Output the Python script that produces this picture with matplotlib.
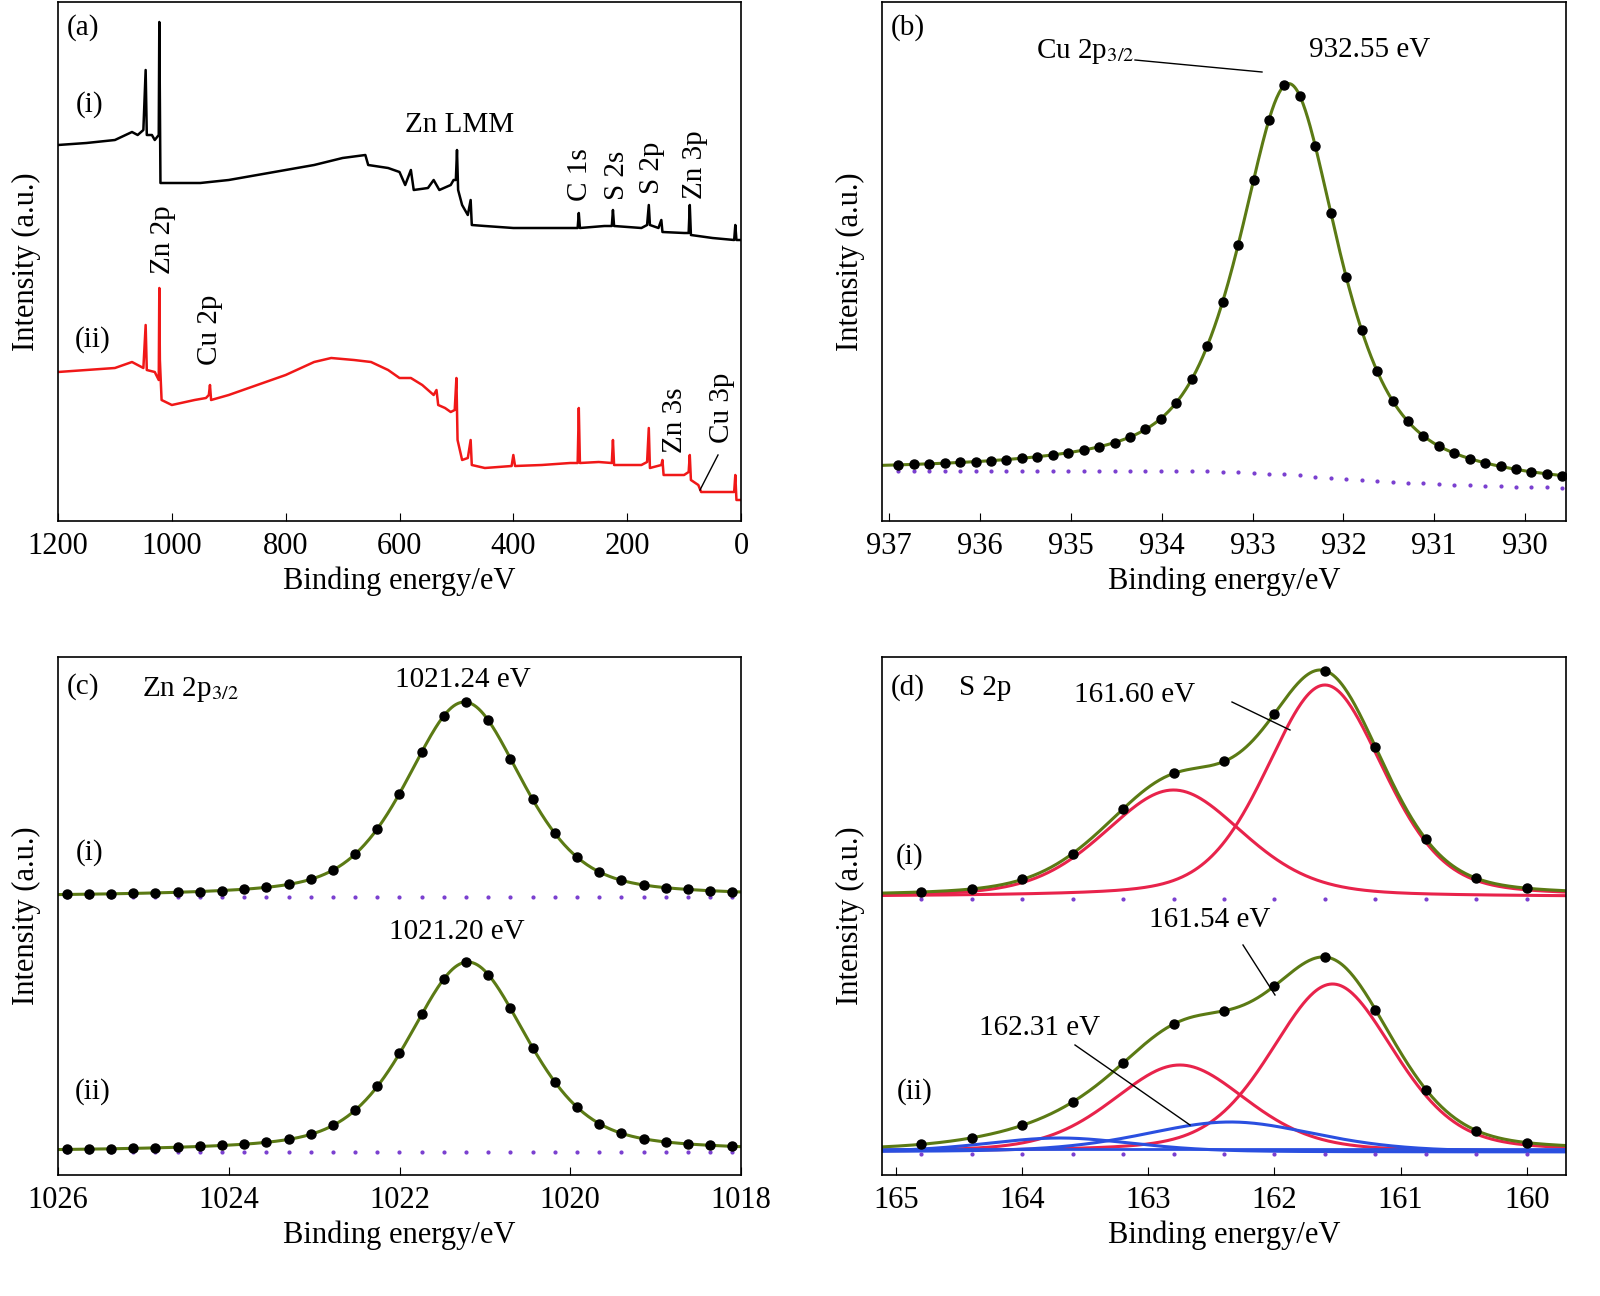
import numpy as np
import matplotlib
matplotlib.use("Agg")
import matplotlib.pyplot as plt

plt.rcParams['font.family'] = ['Liberation Serif', 'DejaVu Serif']
plt.rcParams['font.size'] = 21
plt.rcParams['mathtext.fontset'] = 'stix'

# ---------------- data ----------------
# (a) survey spectra: binding energy and intensity (a.u.)
sur_be_i = [1200,1150,1100,1070,1060,1050,1046,1044,1035,1030,1023,1022,1021,1020,1000,950,900,850,800,750,700,660,655,620,600,590,580,575,550,540,530,510,505,501,499,497,490,480,475,473,450,400,350,300,287,285,283,240,227,225,223,175,165,162,160,145,140,138,100,92,90,88,50,12,10,8,0]
sur_y_i = [145,143,140,132,135,130,70,135,135,140,135,22,100,183,183,183,180,175,170,165,158,155,165,168,172,185,170,190,188,180,190,185,180,180,150,190,205,215,200,225,226,228,228,228,228,213,228,226,226,210,226,228,225,205,225,228,220,232,233,233,205,235,238,240,225,240,240]
sur_be_ii = [1200,1150,1100,1070,1050,1046,1044,1030,1023,1022,1021,1018,1000,960,940,935,933,931,900,850,800,750,720,680,650,620,600,580,560,540,535,532,520,510,503,500,498,490,480,475,473,450,403,400,397,350,300,287,285,283,250,227,225,223,175,165,162,160,140,138,136,100,92,90,88,75,70,20,12,10,8,0]
sur_y_ii = [372,370,368,362,368,325,370,372,380,288,360,400,405,400,398,395,385,400,395,385,375,362,358,360,362,370,378,378,385,395,390,405,408,412,410,378,440,460,458,440,465,468,466,455,466,465,463,463,408,463,462,463,440,465,465,462,428,468,465,460,475,475,472,455,480,485,492,492,492,475,500,500]

# (b) Cu 2p3/2 fit: center, height, FWHM, Lorentz fraction
cu_center, cu_height, cu_fwhm, cu_eta = 932.60, 391, 1.3, 0.7
cu_bg_be = [937.1, 936, 935, 934, 933.5, 933, 932.5, 932, 931, 930, 929.5]
cu_bg = [50, 50, 50, 50, 50, 48, 46, 42, 37, 34, 33]

# (c) Zn 2p3/2 fits: baseline, center, height, FWHM, eta
zn_base = [278, 23]
zn_center = [1021.24, 1021.20]
zn_height = [195, 190]
zn_fwhm = [1.6, 1.65]
zn_eta = [0.45, 0.45]

# (d) S 2p components
s_base = [278, 23]
s_red_center = [[161.60, 162.80], [161.54, 162.75]]
s_red_height = [[212, 107], [168, 87]]
s_red_fwhm = [[1.1, 1.3], [1.15, 1.25]]
s_blue_center = [162.35, 163.70]
s_blue_height = [30, 14]
s_blue_fwhm = [1.6, 1.4]

GREEN = '#5b7a14'
RED = '#e8234b'
BLUE = '#2a4fe0'
PURPLE = '#7a3fd0'


def pv(x, c, h, w, eta):
    g = np.exp(-4*np.log(2)*((x-c)/w)**2)
    l = 1/(1+4*((x-c)/w)**2)
    return h*(eta*l + (1-eta)*g)


fig = plt.figure(figsize=(16, 12.96), dpi=100)


def axpx(l, t, r, b):
    return fig.add_axes([l/1600, 1-b/1296, (r-l)/1600, (b-t)/1296])


def ptxt(px, py, s, **kw):
    kw.setdefault('ha', 'center')
    kw.setdefault('va', 'center')
    fig.text(px/1600, 1-py/1296, s, **kw)


def pline(x0, y0, x1, y1):
    fig.add_artist(plt.Line2D([x0/1600, x1/1600], [1-y0/1296, 1-y1/1296],
                              transform=fig.transFigure, color='k', lw=1))


def style(ax):
    ax.set_yticks([])
    ax.tick_params(axis='x', direction='in', length=6, labelsize=22, pad=8)
    ax.set_xlabel('Binding energy/eV', fontsize=22, labelpad=4)
    ax.set_ylabel('Intensity (a.u.)', fontsize=22, labelpad=12)
    for s in ax.spines.values():
        s.set_linewidth(1.2)

# (a)
ax = axpx(58, 2, 741, 521)
ax.plot(sur_be_i, 521-np.array(sur_y_i), color='k', lw=1.8)
ax.plot(sur_be_ii, 521-np.array(sur_y_ii), color='#f01818', lw=1.8)
ax.set_xlim(1200, 0)
ax.set_ylim(0, 519)
ax.set_xticks([1200, 1000, 800, 600, 400, 200, 0])
style(ax)
ptxt(83, 28, '(a)'); ptxt(90, 105, '(i)'); ptxt(93, 340, '(ii)')
ptxt(460, 125, 'Zn LMM')
for px, py, s in [(163, 240, 'Zn 2p'), (210, 330, 'Cu 2p'), (580, 175, 'C 1s'),
                  (617, 175, 'S 2s'), (652, 168, 'S 2p'), (695, 165, 'Zn 3p'),
                  (675, 420, 'Zn 3s'), (722, 408, 'Cu 3p')]:
    ptxt(px, py, s, rotation=90)
pline(718, 455, 700, 490)

# (b)
ax = axpx(882, 2, 1566, 521)
xb = np.linspace(937.1, 929.5, 600)
bgb = np.interp(xb, cu_bg_be[::-1], cu_bg[::-1])
fitb = bgb + pv(xb, cu_center, cu_height, cu_fwhm, cu_eta)
xd = np.arange(936.9, 929.5, -0.17)
ax.plot(xd, np.interp(xd, cu_bg_be[::-1], cu_bg[::-1]), ls='none', marker='.', ms=4, color=PURPLE)
ax.plot(xb, fitb, color=GREEN, lw=2.2)
ax.plot(xd, np.interp(xd, cu_bg_be[::-1], cu_bg[::-1]) + pv(xd, cu_center, cu_height, cu_fwhm, cu_eta),
        ls='none', marker='o', ms=6.5, color='k')
ax.set_xlim(937.08, 929.55)
ax.set_ylim(0, 519)
ax.set_xticks([937, 936, 935, 934, 933, 932, 931, 930])
style(ax)
ptxt(908, 28, '(b)')
ptxt(1085, 52, r'Cu 2p$_{3/2}$')
ptxt(1370, 50, '932.55 eV')
pline(1135, 60, 1262, 72)

# (c)
ax = axpx(58, 657, 741, 1175)
xc = np.linspace(1026, 1018, 600)
xd = np.arange(1025.9, 1018, -0.26)
for k in range(2):
    ax.plot(xd, np.full_like(xd, zn_base[k]), ls='none', marker='.', ms=4, color=PURPLE)
    ax.plot(xc, zn_base[k] + pv(xc, zn_center[k], zn_height[k], zn_fwhm[k], zn_eta[k]), color=GREEN, lw=2.2)
    ax.plot(xd, zn_base[k] + pv(xd, zn_center[k], zn_height[k], zn_fwhm[k], zn_eta[k]),
            ls='none', marker='o', ms=6.5, color='k')
ax.set_xlim(1026, 1018)
ax.set_ylim(0, 518)
ax.set_xticks([1026, 1024, 1022, 1020, 1018])
style(ax)
ptxt(83, 687, '(c)'); ptxt(190, 690, r'Zn 2p$_{3/2}$')
ptxt(90, 853, '(i)'); ptxt(93, 1092, '(ii)')
ptxt(463, 680, '1021.24 eV'); ptxt(457, 932, '1021.20 eV')

# (d)
ax = axpx(882, 657, 1566, 1175)
xs = np.linspace(165.11, 159.69, 600)
xd = np.arange(164.8, 159.7, -0.2)
for k in range(2):
    b = s_base[k]
    tot = np.full_like(xs, float(b))
    totd = np.full_like(xd, float(b))
    for c, h, w in zip(s_red_center[k], s_red_height[k], s_red_fwhm[k]):
        ax.plot(xs, b + pv(xs, c, h, w, 0.3), color=RED, lw=2.2)
        tot += pv(xs, c, h, w, 0.3)
        totd += pv(xd, c, h, w, 0.3)
    if k == 1:
        ax.plot(xs, np.full_like(xs, b+3), color=BLUE, lw=2)
        for c, h, w in zip(s_blue_center, s_blue_height, s_blue_fwhm):
            ax.plot(xs, b + pv(xs, c, h, w, 0.3), color=BLUE, lw=2.2)
            tot += pv(xs, c, h, w, 0.3)
            totd += pv(xd, c, h, w, 0.3)
    ax.plot(xd[::2], np.full_like(xd[::2], b - 2), ls='none', marker='.', ms=4, color=PURPLE)
    ax.plot(xs, tot, color=GREEN, lw=2.2)
    ax.plot(xd[::2], totd[::2], ls='none', marker='o', ms=6.5, color='k')
ax.set_xlim(165.11, 159.69)
ax.set_ylim(0, 518)
ax.set_xticks([165, 164, 163, 162, 161, 160])
style(ax)
ptxt(908, 688, '(d)'); ptxt(985, 688, 'S 2p')
ptxt(910, 857, '(i)'); ptxt(915, 1092, '(ii)')
ptxt(1135, 695, '161.60 eV'); pline(1232, 702, 1290, 730)
ptxt(1210, 920, '161.54 eV'); pline(1243, 945, 1275, 995)
ptxt(1040, 1028, '162.31 eV'); pline(1075, 1045, 1190, 1125)

fig.savefig('out.png', dpi=100)
